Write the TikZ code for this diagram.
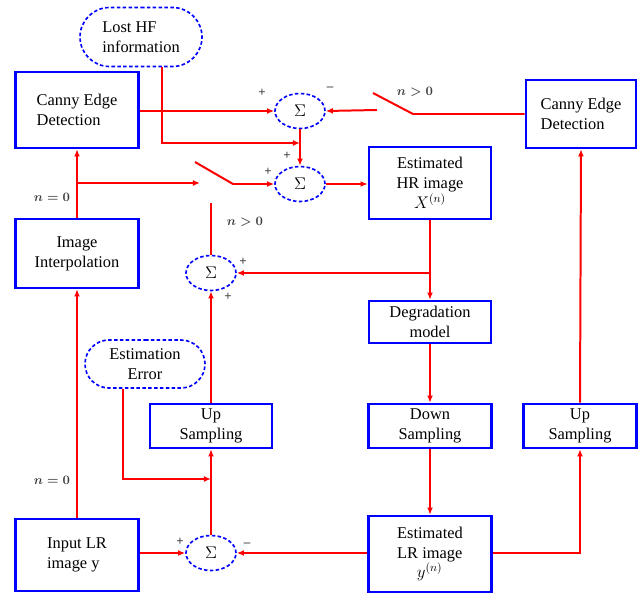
\documentclass[tikz,border=0pt]{standalone}
\usepackage{amsmath,amsfonts}
\usepackage{fontspec}
\setmainfont{Liberation Serif}
\usetikzlibrary{shapes.geometric,shapes.misc,arrows.meta}

\tikzset{
  box/.style={draw=blue, line width=2.2pt, inner sep=0pt, font=\fontsize{14}{17}\selectfont},
  sumnode/.style={ellipse, draw=blue, densely dashed, line width=1.4pt, minimum width=1.5cm, minimum height=1.05cm, inner sep=0pt, font=\fontsize{15}{17}\selectfont},
  cloudnode/.style={rounded rectangle, draw=blue, densely dashed, line width=1.4pt, inner sep=0pt, font=\fontsize{14}{17}\selectfont},
  wire/.style={draw=red, line width=1.7pt, -{Latex[length=6pt,width=5pt]}},
  plainwire/.style={draw=red, line width=1.7pt},
  lbl/.style={text=black!75, font=\fontsize{11}{13}\selectfont\bfseries}
}

\begin{document}
\begin{tikzpicture}[x=0.03cm, y=-0.03cm]
\useasboundingbox (0,0) rectangle (638,593);

% blocks
\node[cloudnode, minimum width=3.66cm, minimum height=1.77cm, align=left] (lost) at (141,37) {Lost HF\\information};
\node[box, minimum width=3.69cm, minimum height=2.28cm, align=left] (cannyL) at (77,110) {Canny Edge\\Detection};
\node[box, minimum width=3.3cm, minimum height=2.04cm, align=left] (cannyR) at (581,114) {Canny Edge\\Detection};
\node[box, minimum width=3.66cm, minimum height=2.16cm, align=center] (hr) at (430,183) {Estimated\\HR image\\$X^{(n)}$};
\node[box, minimum width=3.69cm, minimum height=2.07cm, align=center] (interp) at (77,253.5) {Image\\Interpolation};
\node[box, minimum width=3.66cm, minimum height=1.26cm, align=center] (degr) at (430,322) {Degradation\\model};
\node[box, minimum width=3.69cm, minimum height=1.32cm, align=center] (down) at (430,426) {Down\\Sampling};
\node[box, minimum width=3.66cm, minimum height=1.32cm, align=center] (upM) at (211,426) {Up\\Sampling};
\node[box, minimum width=3.39cm, minimum height=1.32cm, align=center] (upR) at (580,426) {Up\\Sampling};
\node[cloudnode, minimum width=3.6cm, minimum height=1.44cm, align=center] (err) at (145,364) {Estimation\\Error};
\node[box, minimum width=3.69cm, minimum height=2.16cm, align=left] (input) at (77,555) {Input LR\\image y};
\node[box, minimum width=3.69cm, minimum height=2.28cm, align=left] (lr) at (430,554) {Estimated\\LR image\\\hspace*{1.2em}$y^{(n)}$};

% adders
\node[sumnode] (sumA) at (300,111) {$\Sigma$};
\node[sumnode] (sumB) at (300,184) {$\Sigma$};
\node[sumnode] (sumC) at (211,273) {$\Sigma$};
\node[sumnode] (sumD) at (211,553) {$\Sigma$};

% switch and junction points
\coordinate (hfjoin) at (300,143);
\coordinate (leftsw) at (200,183);
\coordinate (swA) at (195,162);
\coordinate (swB) at (233,184);
\coordinate (rsw) at (413,114);
\coordinate (rswA) at (373,93);
\coordinate (rswB) at (377,110);
\coordinate (hrjoin) at (hr.south |- sumC.east);
\coordinate (topC) at (211,203);
\coordinate (errjoin) at (211,479);
\coordinate (lrturn) at (580,553);

% connections
\draw[wire] (cannyL.east |- sumA.west) -- (sumA.west);
\draw[wire] ([xshift=0.63cm]lost.south) |- (hfjoin);
\draw[wire] (sumA.south) -- (sumB.north);
\draw[wire] (interp.north) -- (cannyL.south);
\draw[wire] (interp.north |- leftsw) -- (leftsw);
\draw[wire] (swA) -- (swB) -- (sumB.west);
\draw[wire] (sumB.east) -- (hr.west |- sumB.east);
\draw[plainwire] (cannyR.west) -- (rsw) -- (rswA);
\draw[wire] (rswB) -- (sumA.east);
\draw[wire] (hr.south) -- (degr.north);
\draw[wire] (hrjoin) -- (sumC.east);
\draw[plainwire] (topC) -- (sumC.north);
\draw[wire] (upM.north) -- (sumC.south);
\draw[wire] (sumD.north) -- (upM.south);
\draw[wire] ([xshift=-0.66cm]err.south) |- (errjoin);
\draw[wire] (input.north) -- (interp.south);
\draw[wire] (input.east |- sumD.west) -- (sumD.west);
\draw[wire] (lr.west |- sumD.east) -- (sumD.east);
\draw[wire] (lr.east |- lrturn) -- (lrturn) -- (upR.south);
\draw[wire] (upR.north) -- (cannyR.south);
\draw[wire] (degr.south) -- (down.north);
\draw[wire] (down.south) -- (lr.north);

% signs and switch labels
\node[lbl] (pA1) at (262,93) {+};
\node[lbl] (mA) at (330,89) {--};
\node[lbl] (swR) at (415,92) {$\boldsymbol{n>0}$};
\node[lbl] (pB1) at (287,156) {+};
\node[lbl] (pB2) at (268,172) {+};
\node[lbl] (swL) at (52,197) {$\boldsymbol{n=0}$};
\node[lbl] (swC) at (245,222) {$\boldsymbol{n>0}$};
\node[lbl] (pC1) at (243,262) {+};
\node[lbl] (pC2) at (228,297) {+};
\node[lbl] (swI) at (52,480) {$\boldsymbol{n=0}$};
\node[lbl] (pD) at (180,542) {+};
\node[lbl] (mD) at (247,545) {--};
\end{tikzpicture}
\end{document}
